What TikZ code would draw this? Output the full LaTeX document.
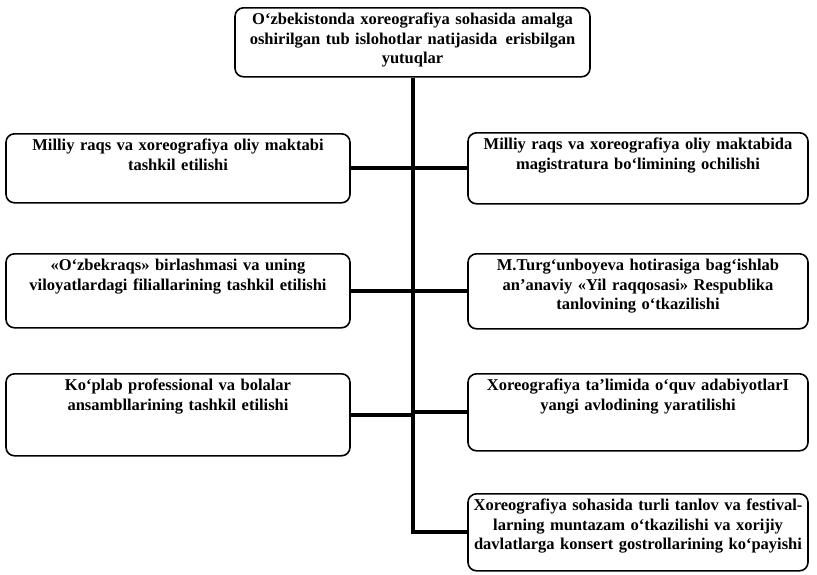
\documentclass[tikz,border=0pt]{standalone}
\usepackage{fontspec}
\setmainfont{Liberation Serif}
\usetikzlibrary{positioning}
\tikzset{%
        block/.style = { draw, line width=1.6pt, rounded corners=3mm, anchor=north,
                         align=center, inner xsep=3pt, inner ysep=3pt, text height=14pt,
                         font=\fontsize{16.5}{19.5}\selectfont\bfseries },
      leftbox/.style = { block, minimum width=344pt, text width=338pt, text depth=#1 },
     rightbox/.style = { block, minimum width=340pt, text width=334pt, text depth=#1 },
         link/.style = { line width=4pt }
}
\begin{document}
\begin{tikzpicture}[x=1pt,y=-1pt]
\useasboundingbox (0,0) rectangle (817,574);
% heading
\node[block, minimum width=355pt, text width=349pt, text depth=49pt] (top) at (412.5,7)
  {O‘zbekistonda xoreografiya sohasida amalga\\ oshirilgan tub islohotlar natijasida\, erisbilgan\\ yutuqlar};
% left column
\node[leftbox=49pt]  (l1) at (178,133) {Milliy raqs va xoreografiya oliy maktabi\\ tashkil etilishi};
\node[leftbox=54pt]  (l2) at (178,253) {«O‘zbekraqs» birlashmasi va uning\\ viloyatlardagi filiallarining tashkil etilishi};
\node[leftbox=62pt]  (l3) at (178,373) {Ko‘plab professional va bolalar\\ ansambllarining tashkil etilishi};
% right column
\node[rightbox=51pt] (r1) at (638,132) {Milliy raqs va xoreografiya oliy maktabida\\ magistratura bo‘limining ochilishi};
\node[rightbox=55pt] (r2) at (638,253) {M.Turg‘unboyeva hotirasiga bag‘ishlab\\ an’anaviy «Yil raqqosasi» Respublika\\ tanlovining o‘tkazilishi};
\node[rightbox=57pt] (r3) at (638,373) {Xoreografiya ta’limida o‘quv adabiyotlarI\\ yangi avlodining yaratilishi};
\node[rightbox=57pt] (r4) at (638,493) {Xoreografiya sohasida turli tanlov va festival-\\ larning muntazam o‘tkazilishi va xorijiy\\ davlatlarga konsert gostrollarining ko‘payishi};
% connectors
\draw[link] (top.south) -- (top.south |- r4.west) -- (r4.west);
\draw[link] (l1.east) -- (l1.east -| top.south);
\draw[link] (l2.east) -- (l2.east -| top.south);
\draw[link] (l3.east) -- (l3.east -| top.south);
\draw[link] (r1.west) -- (r1.west -| top.south);
\draw[link] (r2.west) -- (r2.west -| top.south);
\draw[link] (r3.west) -- (r3.west -| top.south);
\end{tikzpicture}
\end{document}
